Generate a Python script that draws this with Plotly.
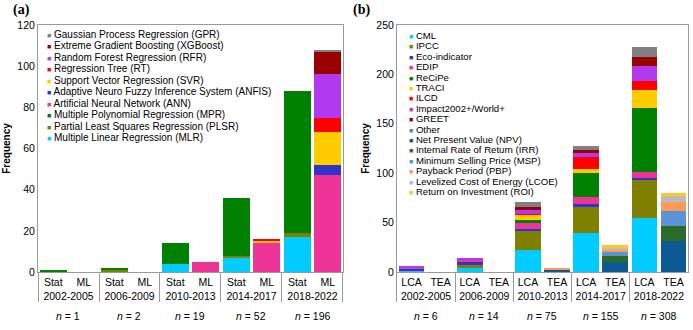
import plotly.graph_objects as go

periods = ["2002-2005", "2006-2009", "2010-2013", "2014-2017", "2018-2022"]
n_a = [1, 2, 19, 52, 196]
n_b = [6, 14, 75, 155, 308]

# Panel (a): Stat methods (plotted on "Stat" bars)
mlr = [0, 0, 4, 7, 17]
plsr = [0, 1, 0, 1, 2]
mpr = [1, 1, 10, 28, 69]
# ML methods (plotted on "ML" bars)
ann = [0, 0, 5, 14, 47]
anfis = [0, 0, 0, 0, 5]
svr = [0, 0, 0, 1, 16]
rt = [0, 0, 0, 1, 7]
rfr = [0, 0, 0, 0, 21]
xgb = [0, 0, 0, 0, 11]
gpr = [0, 0, 0, 0, 1]

# Panel (b): LCA methods
cml = [2, 4, 22, 39, 55]
ipcc = [0, 3, 19, 27, 39]
eco = [2, 4, 3, 3, 1]
edip = [1, 2, 6, 7, 6]
recipe = [0, 0, 3, 24, 65]
traci = [0, 0, 5, 4, 18]
ilcd = [0, 0, 1, 12, 9]
impact = [1, 1, 4, 5, 16]
greet = [0, 0, 3, 2, 9]
other = [0, 0, 5, 5, 10]
# TEA methods
npv = [0, 0, 3, 10, 31]
irr = [0, 0, 0, 6, 16]
msp = [0, 0, 0, 4, 15]
pbp = [0, 0, 1, 3, 9]
lcoe = [0, 0, 0, 2, 6]
roi = [0, 0, 0, 2, 3]

series_a = [
    ("Multiple Linear Regression (MLR)", mlr, "Stat", "#00CCFF"),
    ("Partial Least Squares Regression (PLSR)", plsr, "Stat", "#808000"),
    ("Multiple Polynomial Regression (MPR)", mpr, "Stat", "#008000"),
    ("Artificial Neural Network (ANN)", ann, "ML", "#EE3399"),
    ("Adaptive Neuro Fuzzy Inference System (ANFIS)", anfis, "ML", "#3333CC"),
    ("Support Vector Regression (SVR)", svr, "ML", "#FFCC00"),
    ("Regression Tree (RT)", rt, "ML", "#FF0000"),
    ("Random Forest Regression (RFR)", rfr, "ML", "#B23AEE"),
    ("Extreme Gradient Boosting (XGBoost)", xgb, "ML", "#990000"),
    ("Gaussian Process Regression (GPR)", gpr, "ML", "#808080"),
]
series_b = [
    ("CML", cml, "LCA", "#00CCFF"),
    ("IPCC", ipcc, "LCA", "#808000"),
    ("Eco-indicator", eco, "LCA", "#3333CC"),
    ("EDIP", edip, "LCA", "#EE3399"),
    ("ReCiPe", recipe, "LCA", "#008000"),
    ("TRACI", traci, "LCA", "#FFCC00"),
    ("ILCD", ilcd, "LCA", "#FF0000"),
    ("Impact2002+/World+", impact, "LCA", "#B23AEE"),
    ("GREET", greet, "LCA", "#990000"),
    ("Other", other, "LCA", "#808080"),
    ("Net Present Value (NPV)", npv, "TEA", "#0B5A94"),
    ("Internal Rate of Return (IRR)", irr, "TEA", "#2A6B2A"),
    ("Minimum Selling Price (MSP)", msp, "TEA", "#5A93D6"),
    ("Payback Period (PBP)", pbp, "TEA", "#FF9955"),
    ("Levelized Cost of Energy (LCOE)", lcoe, "TEA", "#BBBBBB"),
    ("Return on Investment (ROI)", roi, "TEA", "#FFC81E"),
]

FONT = "Liberation Sans, Arial, sans-serif"
fig = go.Figure()


def add_panel(series, subs, xa, ya):
    xlev1 = [p for p in periods for _ in subs]
    xlev2 = [s for _ in periods for s in subs]
    for name, vals, sub, color in series:
        y = []
        for p_i, p in enumerate(periods):
            for s in subs:
                y.append(vals[p_i] if s == sub else 0)
        fig.add_trace(go.Bar(
            x=[xlev1, xlev2], y=y, name=name, marker_color=color,
            marker_line_width=0, showlegend=False,
            xaxis=xa, yaxis=ya,
        ))


add_panel(series_a, ["Stat", "ML"], "x", "y")
add_panel(series_b, ["LCA", "TEA"], "x2", "y2")

axis_common = dict(
    showline=True, linecolor="#9a9a9a", linewidth=1, mirror=True,
    showgrid=False, zeroline=False, automargin=False,
)
xcommon = dict(type="multicategory", tickfont=dict(size=10.5), tickangle=0,
               dividercolor="#9a9a9a", dividerwidth=1,
               ticks="outside", ticklen=2, tickcolor="rgba(0,0,0,0)")
ycommon = dict(ticks="", tickfont=dict(size=10.5),
               title=dict(text="<b>Frequency</b>", font=dict(size=10), standoff=4))
fig.update_layout(
    width=693, height=330,
    margin=dict(l=38, r=5, t=25, b=58),
    plot_bgcolor="white", paper_bgcolor="white",
    barmode="stack", bargap=0.12,
    font=dict(family=FONT, color="#000000", size=10),
    xaxis=dict(domain=[0, 0.4692], anchor="y", **xcommon, **axis_common),
    xaxis2=dict(domain=[0.5523, 1], anchor="y2", **xcommon, **axis_common),
    yaxis=dict(range=[0, 120], dtick=20, anchor="x", **ycommon, **axis_common),
    yaxis2=dict(range=[0, 250], dtick=50, anchor="x2", **ycommon, **axis_common),
)

annotations = []
plot_h = 247.0


def legend_annots(series, xref, yref, x, first_px, step_px, size, rev):
    items = list(reversed(series)) if rev else list(series)
    for i, (name, _, _, color) in enumerate(items):
        ypx = first_px + i * step_px
        annotations.append(dict(
            xref=xref, yref=yref, x=x, y=1 - ypx / plot_h,
            xanchor="left", yanchor="middle", showarrow=False,
            text=f"<span style='color:{color};font-size:7px'>■</span> {name}",
            font=dict(size=size, family=FONT, color="#000"),
        ))


legend_annots(series_a, "x domain", "y domain", 0.022, 9.5, 11.45, 10, True)
legend_annots(series_b, "x2 domain", "y2 domain", 0.036, 10.5, 10.4, 9.6, False)

for xr, ns in (("x domain", n_a), ("x2 domain", n_b)):
    for i, n in enumerate(ns):
        annotations.append(dict(
            xref=xr, yref="paper", x=(i + 0.5) / len(ns), y=-(316 - 272) / plot_h,
            xanchor="center", yanchor="middle", showarrow=False,
            text=f"<i>n</i> = {n}", font=dict(size=10.5, family=FONT),
        ))

serif = "Liberation Serif, Times New Roman, serif"
annotations.append(dict(xref="paper", yref="paper", x=-27 / 650, y=1 + 15 / plot_h,
                        xanchor="left", yanchor="middle", showarrow=False,
                        text="<b>(a)</b>", font=dict(size=14, family=serif)))
annotations.append(dict(xref="paper", yref="paper", x=(351 - 38) / 650, y=1 + 15 / plot_h,
                        xanchor="left", yanchor="middle", showarrow=False,
                        text="<b>(b)</b>", font=dict(size=14, family=serif)))
fig.update_layout(annotations=annotations)

fig.write_html("out.html", config={"displayModeBar": False},
               post_script="document.body.style.margin='0';")
